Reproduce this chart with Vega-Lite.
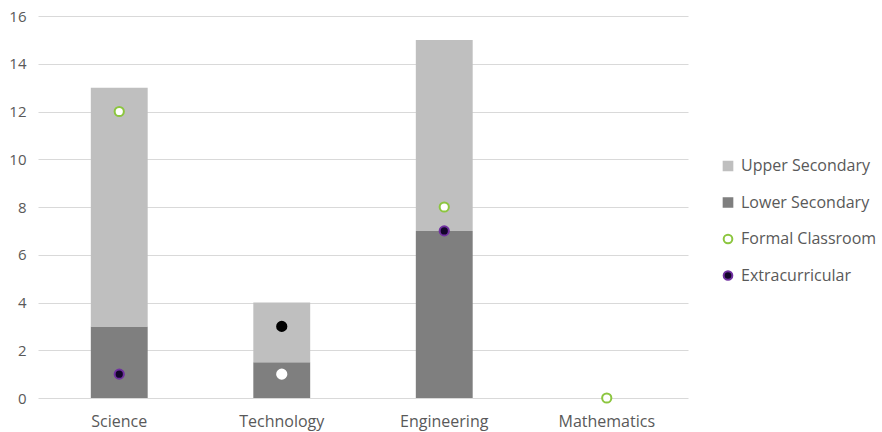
{
  "$schema": "https://vega.github.io/schema/vega-lite/v6.json",
  "width": 650,
  "height": 382,
  "autosize": {"type": "none"},
  "padding": {"left": 38, "top": 16, "right": 194, "bottom": 34},
  "background": "white",
  "config": {
    "view": {"stroke": null},
    "font": "Open Sans",
    "axis": {"labelColor": "#595959", "labelFont": "Open Sans"},
    "legend": {"labelFont": "Open Sans"}
  },
  "data": {
    "values": [
      {"subject": "Science", "series": "Lower Secondary", "kind": "bar", "value": 3},
      {"subject": "Science", "series": "Upper Secondary", "kind": "bar", "value": 10},
      {"subject": "Technology", "series": "Lower Secondary", "kind": "bar", "value": 1.5},
      {"subject": "Technology", "series": "Upper Secondary", "kind": "bar", "value": 2.5},
      {"subject": "Engineering", "series": "Lower Secondary", "kind": "bar", "value": 7},
      {"subject": "Engineering", "series": "Upper Secondary", "kind": "bar", "value": 8},
      {"subject": "Mathematics", "series": "Lower Secondary", "kind": "bar", "value": 0},
      {"subject": "Mathematics", "series": "Upper Secondary", "kind": "bar", "value": 0},
      {"subject": "Science", "series": "Formal Classroom", "kind": "point", "value": 12},
      {"subject": "Technology", "series": "Formal Classroom", "kind": "point", "value": 1},
      {"subject": "Engineering", "series": "Formal Classroom", "kind": "point", "value": 8},
      {"subject": "Mathematics", "series": "Formal Classroom", "kind": "point", "value": 0},
      {"subject": "Science", "series": "Extracurricular", "kind": "point", "value": 1},
      {"subject": "Technology", "series": "Extracurricular", "kind": "point", "value": 3},
      {"subject": "Engineering", "series": "Extracurricular", "kind": "point", "value": 7}
    ]
  },
  "encoding": {
    "x": {
      "field": "subject",
      "type": "nominal",
      "sort": ["Science", "Technology", "Engineering", "Mathematics"],
      "scale": {"paddingInner": 0.65, "paddingOuter": 0.325},
      "axis": {"title": null, "labelAngle": 0, "domain": false, "ticks": false, "labelFontSize": 16, "labelPadding": 15}
    }
  },
  "layer": [
    {
      "transform": [{"filter": "datum.kind === 'bar'"}],
      "mark": {"type": "bar"},
      "encoding": {
        "y": {
          "field": "value",
          "type": "quantitative",
          "stack": "zero",
          "scale": {"domain": [0, 16]},
          "axis": {"title": null, "values": [0,2,4,6,8,10,12,14,16], "labelOverlap": false, "domain": false, "ticks": false, "gridColor": "#d9d9d9", "gridWidth": 1, "labelFontSize": 15, "labelPadding": 12}
        },
        "order": {"field": "series", "sort": "ascending"},
        "fill": {
          "field": "series",
          "type": "nominal",
          "scale": {
            "domain": ["Upper Secondary", "Lower Secondary", "Formal Classroom", "Extracurricular"],
            "range": ["#bfbfbf", "#7f7f7f", "#ffffff", "#12052a"]
          },
          "legend": {
            "title": null,
            "orient": "none",
            "legendX": 682,
            "legendY": 142,
            "labelFontSize": 16,
            "labelColor": "#595959",
            "rowPadding": 18.5,
            "symbolSize": 75,
            "symbolStrokeWidth": 2,
            "labelOffset": 5
          }
        }
      }
    },
    {
      "transform": [{"filter": "datum.kind === 'point'"}],
      "mark": {"type": "point", "filled": false, "size": 85, "strokeWidth": 2, "opacity": 1},
      "encoding": {
        "y": {"field": "value", "type": "quantitative"},
        "fill": {
          "condition": {"test": "datum.subject === 'Technology' && datum.series === 'Extracurricular'", "value": "#000000"},
          "field": "series",
          "type": "nominal"
        },
        "stroke": {
          "condition": {"test": "datum.subject === 'Technology'", "value": {"expr": "datum.series === 'Extracurricular' ? '#000000' : '#ffffff'"}},
          "field": "series",
          "type": "nominal",
          "scale": {
            "domain": ["Upper Secondary", "Lower Secondary", "Formal Classroom", "Extracurricular"],
            "range": ["#bfbfbf", "#7f7f7f", "#8cc63f", "#7030a0"]
          }
        },
        "shape": {
          "field": "series",
          "type": "nominal",
          "scale": {
            "domain": ["Upper Secondary", "Lower Secondary", "Formal Classroom", "Extracurricular"],
            "range": ["square", "square", "circle", "circle"]
          }
        }
      }
    }
  ]
}
